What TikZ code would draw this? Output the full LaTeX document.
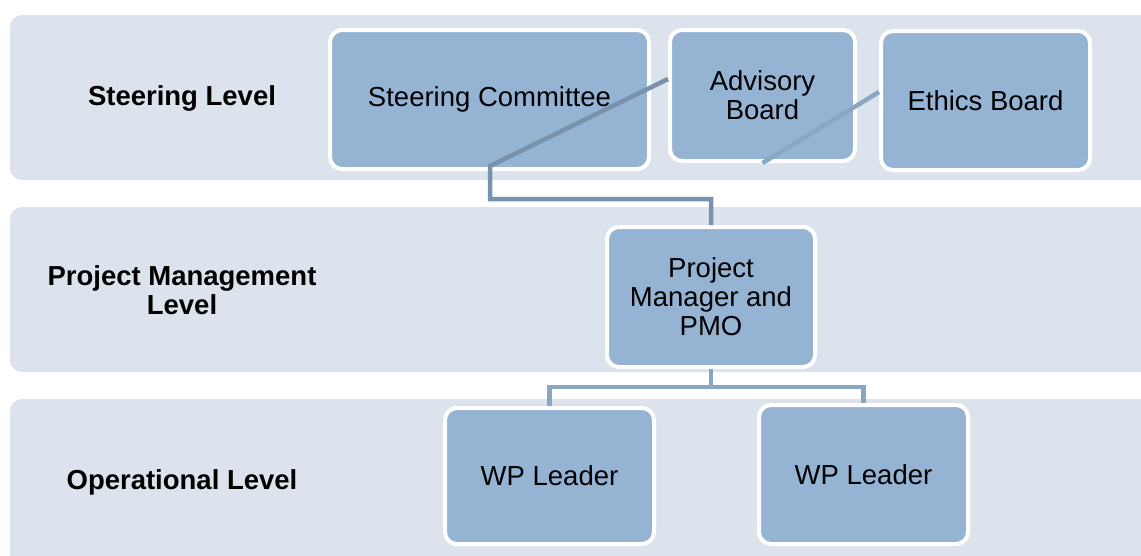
\documentclass[tikz,border=0pt]{standalone}
\usepackage{fontspec}
\setmainfont{Liberation Sans}
\definecolor{bandbg}{HTML}{DCE3EC}
\definecolor{boxfill}{HTML}{95B3D3}
\definecolor{linedark}{HTML}{7892AB}
\definecolor{linelight}{HTML}{8AA7C1}
\tikzset{
  band/.style={fill=bandbg, rounded corners=12pt, draw=none},
  orgbox/.style={rectangle, rounded corners=12pt, draw=white, line width=4pt, fill=boxfill,
    inner sep=0pt, align=center, font=\fontsize{27.5}{29}\selectfont},
  levellabel/.style={align=center, inner sep=0pt, font=\fontsize{27.5}{29}\selectfont\bfseries},
  conn/.style={draw=linedark, line width=4.5pt},
  connlight/.style={draw=linelight, line width=4.5pt}
}
\begin{document}
\begin{tikzpicture}[x=1pt,y=-1pt]
\useasboundingbox (0,0) rectangle (1141,555);
\clip (0,0) rectangle (1141,555);
% bands
\fill[band] (10,15) rectangle (1170,180);
\fill[band] (10,207) rectangle (1170,372);
\fill[band] (10,399) rectangle (1170,590);
% level labels
\node[levellabel] (l1) at (182,98) {Steering Level};
\node[levellabel] (l2) at (182,290) {Project Management\\Level};
\node[levellabel] (l3) at (182,482) {Operational Level};
% boxes
\node[orgbox, minimum width=319pt, minimum height=139pt] (sc) at (489.5,99.5) {Steering Committee};
\node[orgbox, minimum width=185pt, minimum height=131pt] (ab) at (762.5,95.5) {Advisory\\Board};
\node[orgbox, minimum width=209pt, minimum height=139pt] (eb) at (985.5,100.5) {Ethics Board};
\node[orgbox, minimum width=208pt, minimum height=140pt] (pmo) at (711,297) {Project\\Manager and\\PMO};
\node[orgbox, minimum width=209pt, minimum height=136pt] (wp1) at (549.5,476) {WP Leader};
\node[orgbox, minimum width=209pt, minimum height=139pt] (wp2) at (863.5,474.5) {WP Leader};
% connectors
\coordinate (k1) at (490,166);
\coordinate (k2) at (490,199);
\coordinate (k3) at (711,387);
\draw[conn] ([yshift=16.5pt]ab.west) -- (k1) -- (k2) -| (pmo.north);
\draw[connlight] ([yshift=8.5pt]eb.west) -- (ab.south);
\draw[connlight] (pmo.south) -- (k3) -| (wp1.north);
\draw[connlight] (k3) -| (wp2.north);
\end{tikzpicture}
\end{document}
